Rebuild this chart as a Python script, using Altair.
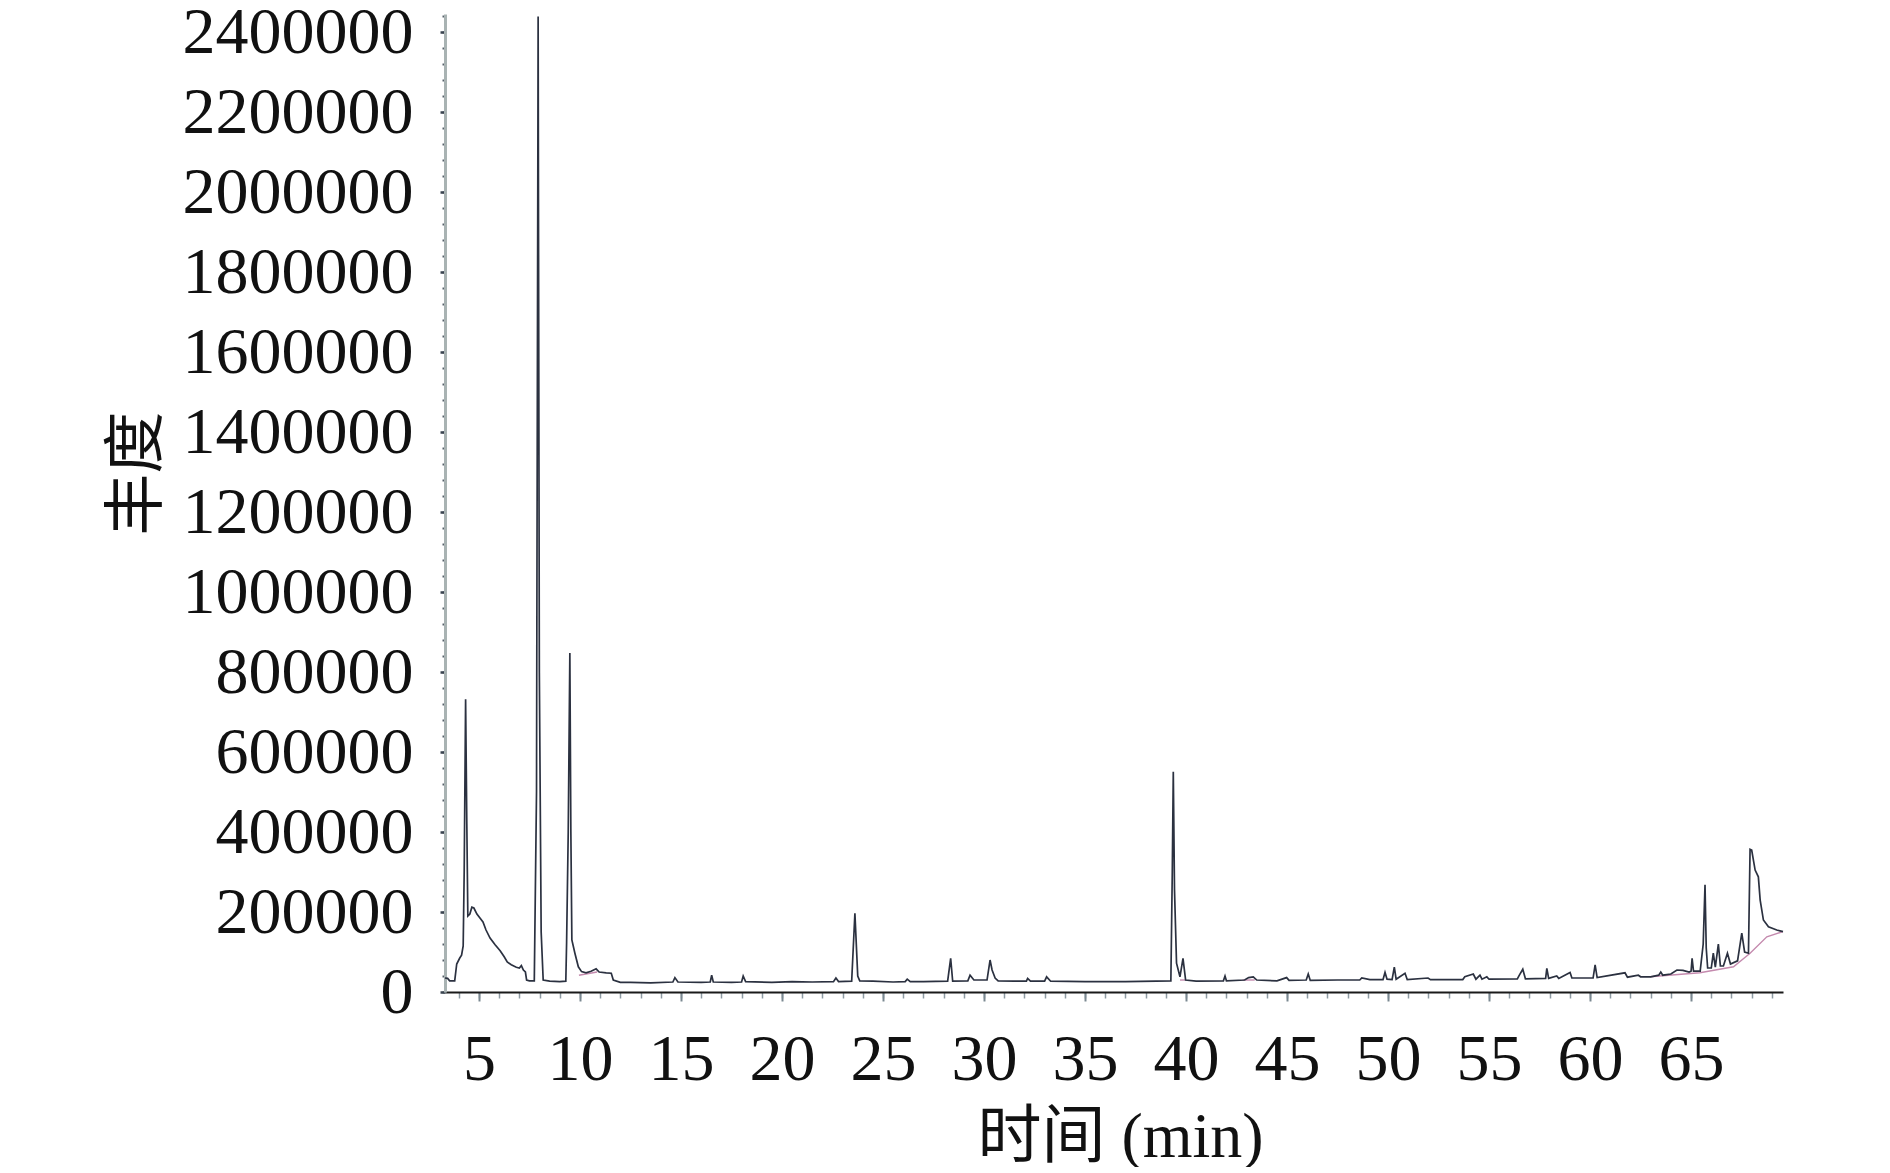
import altair as alt
import pandas as pd

# Retention time (min) and abundance of the chromatogram trace
times = [3.32, 3.45, 3.55, 3.80, 3.90, 4.05, 4.14, 4.22, 4.27, 4.34, 4.40, 4.45,
         4.55, 4.65, 4.75, 4.90, 5.05, 5.20, 5.35, 5.55, 5.80, 6.05, 6.25, 6.40,
         6.60, 6.85, 7.00, 7.10, 7.20, 7.30, 7.36, 7.50, 7.74, 7.85, 7.93, 7.99,
         8.08, 8.18, 8.50, 9.00, 9.30, 9.34, 9.42, 9.50, 9.55, 9.60, 9.75, 9.92,
         10.08, 10.30, 10.55, 10.80, 10.95, 11.30, 11.55, 11.65, 12.00, 12.50,
         13.50, 14.60, 14.70, 14.85, 16.00, 16.45, 16.52, 16.60, 17.50, 18.00,
         18.08, 18.20, 19.50, 20.50, 21.50, 22.55, 22.67, 22.80, 23.45, 23.61,
         23.75, 23.85, 24.50, 25.50, 26.10, 26.20, 26.35, 27.00, 28.20, 28.35,
         28.45, 29.20, 29.31, 29.50, 30.15, 30.30, 30.40, 30.55, 30.70, 31.50,
         32.10, 32.16, 32.30, 33.00, 33.10, 33.30, 35.00, 37.00, 39.25, 39.32,
         39.37, 39.43, 39.53, 39.70, 39.85, 39.98, 40.50, 41.85, 41.93, 42.00,
         42.90, 43.10, 43.33, 43.50, 44.50, 44.98, 45.10, 45.95, 46.05, 46.15,
         47.50, 48.60, 48.70, 49.10, 49.75, 49.85, 49.95, 50.20, 50.31, 50.40,
         50.84, 50.95, 51.98, 52.10, 53.70, 53.80, 54.22, 54.35, 54.55, 54.65,
         54.89, 55.00, 56.40, 56.50, 56.67, 56.80, 57.80, 57.86, 57.95, 58.35,
         58.45, 59.01, 59.10, 60.15, 60.25, 60.35, 61.73, 61.85, 62.39, 62.50,
         63.00, 63.40, 63.50, 63.60, 64.00, 64.30, 64.60, 64.90, 65.00, 65.05,
         65.12, 65.45, 65.60, 65.69, 65.75, 65.82, 66.00, 66.10, 66.20, 66.35,
         66.45, 66.60, 66.80, 66.95, 67.30, 67.51, 67.65, 67.84, 67.92, 68.00,
         68.17, 68.33, 68.42, 68.58, 68.83, 69.24, 69.55]
abundance = [35000, 34000, 28000, 28000, 70000, 85000, 92000, 115000, 300000, 732000, 420000, 190000,
             195000, 212000, 210000, 195000, 185000, 175000, 155000, 135000, 118000, 103000, 88000, 75000,
             68000, 62000, 60000, 66000, 55000, 50000, 30000, 28000, 28000, 500000, 2440000, 800000,
             150000, 30000, 27000, 26000, 27000, 125000, 400000, 848000, 400000, 130000, 97000, 63000,
             51000, 48000, 52000, 58000, 50000, 48000, 47000, 30000, 24000, 24000,
             23000, 25000, 36000, 25000, 24000, 25000, 42000, 25000, 24000, 25000,
             40000, 26000, 24000, 26000, 25000, 26000, 35000, 26000, 27000, 197000,
             40000, 28000, 27000, 25000, 26000, 32000, 26000, 26000, 27000, 84000,
             27000, 28000, 42000, 30000, 30000, 80000, 55000, 35000, 28000, 27000,
             27000, 34000, 27000, 27000, 38000, 27000, 26000, 26000, 28000, 300000,
             551000, 255000, 72000, 38000, 84000, 30000, 27000, 28000, 40000, 28000,
             30000, 36000, 38000, 30000, 28000, 36000, 29000, 30000, 45000, 29000,
             30000, 30000, 35000, 31000, 31000, 49000, 32000, 31000, 62000, 32000,
             47000, 31000, 35000, 31000, 31000, 38000, 45000, 32000, 42000, 32000,
             38000, 32000, 33000, 42000, 57000, 33000, 34000, 59000, 34000, 40000,
             34000, 49000, 35000, 35000, 68000, 36000, 48000, 37000, 42000, 38000,
             38000, 42000, 50000, 42000, 45000, 55000, 54000, 50000, 52000, 84000,
             52000, 52000, 120000, 268000, 110000, 60000, 60000, 97000, 62000, 120000,
             65000, 65000, 97000, 70000, 78000, 147000, 100000, 97000, 357000, 355000,
             305000, 288000, 230000, 180000, 163000, 155000, 151000]

# Integration baselines (pink trace segments)
base_group = [1, 1, 2, 2, 3, 3, 4, 4, 4, 4, 4, 4]
base_times = [9.95, 10.85, 39.70, 39.98, 42.80, 43.40, 62.97, 65.44, 67.10, 67.92, 68.75, 69.55]
base_values = [42000, 50000, 30000, 30000, 30000, 30000, 38000, 48000, 63000, 97000, 138000, 151000]

# Axis tick values
x_labels = [5, 10, 15, 20, 25, 30, 35, 40, 45, 50, 55, 60, 65]
x_minor = list(range(4, 70))
y_labels = list(range(0, 2400001, 200000))
y_minor = list(range(0, 2440001, 40000))

df = pd.DataFrame({"t": times, "a": abundance})
dfb = pd.DataFrame({"g": base_group, "t": base_times, "a": base_values})

FONT = "Liberation Serif, Noto Sans CJK SC"
xscale = alt.Scale(domain=[3.32, 69.55], nice=False, zero=False)
yscale = alt.Scale(domain=[0, 2446000], nice=False)

main_x = alt.Axis(values=x_labels, title="时间 (min)", format="d", labelFont=FONT, labelFontSize=66,
                  labelColor="#111111", titleFont=FONT, titleFontSize=64, titleFontWeight="normal",
                  titleColor="#111111", titleX=675, titleY=113, titleBaseline="top",
                  tickSize=9, tickWidth=2, tickColor="#7a8891", labelPadding=26, labelLimit=0,
                  domainColor="#1a1a1a", domainWidth=2, grid=False, labelFlush=False,
                  labelOverlap=False, orient="bottom")
minor_x = alt.Axis(values=x_minor, labels=False, title=None, tickSize=6, tickWidth=1.5,
                   tickColor="#8d9aa2", domain=False, grid=False, orient="bottom")
main_y = alt.Axis(values=y_labels, title="丰度", format="d", labelFont=FONT, labelFontSize=66,
                  labelColor="#111111", titleFont=FONT, titleFontSize=62, titleFontWeight="normal",
                  titleColor="#111111", titleAngle=270, titleX=-289, titleY=459,
                  titleBaseline="alphabetic", tickSize=5, tickWidth=2.5, tickColor="#3a4450",
                  labelPadding=27, labelLimit=0, domainColor="#a9b3b3", domainWidth=3, grid=False,
                  orient="left", labelFlush=False, labelOverlap=False)
minor_y = alt.Axis(values=y_minor, labels=False, title=None, tickSize=3, tickWidth=2,
                   tickColor="#56606a", domain=False, grid=False, orient="left")

pink = alt.Chart(dfb).mark_line(color="#c48aae", strokeWidth=1.4).encode(
    x=alt.X("t:Q", scale=xscale, axis=minor_x),
    y=alt.Y("a:Q", scale=yscale, axis=minor_y),
    detail="g:N",
)
trace = alt.Chart(df).mark_line(color="#2b3140", strokeWidth=1.7).encode(
    x=alt.X("t:Q", scale=xscale, axis=main_x),
    y=alt.Y("a:Q", scale=yscale, axis=main_y),
)

chart = alt.layer(pink, trace).resolve_axis(x="independent", y="independent").properties(
    width=1338, height=978,
    autosize=alt.AutoSizeParams(type="none"),
    padding={"left": 437, "top": 6, "right": 40, "bottom": 175},
).configure(background="white", view=alt.ViewConfig(stroke=None))

chart.save("out.html", embed_options={"renderer": "svg", "actions": False})
